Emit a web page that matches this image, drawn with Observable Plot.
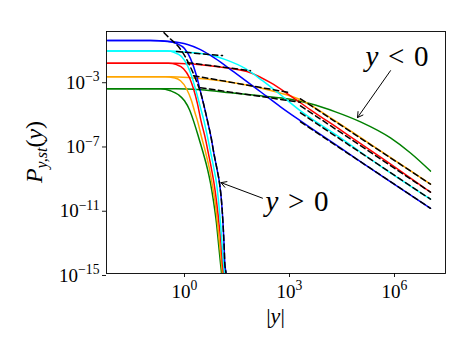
<!DOCTYPE html>
<html><head><meta charset="utf-8">
<script src="https://cdn.jsdelivr.net/npm/d3@7"></script>
<script src="https://cdn.jsdelivr.net/npm/@observablehq/plot@0.6"></script>
<style>
body{margin:0;background:#fff;}
svg text{font-family:'Liberation Serif','Times New Roman',serif !important;}
</style></head><body>
<script>
// axis setup
const xTicks = [1, 1e3, 1e6];
const yTicks = [1e-15, 1e-11, 1e-7, 1e-3];
const xDomain = [0.005905, 2.865e7];
const yDomain = [1e-15, 1.155];

// y > 0 branches [|y|, P]
const greenPos = [[0.00631,3.16e-4],[0.206,3.16e-4],[0.398,2.37e-4],[0.674,1.33e-4],[1,5.62e-5],[1.389,1.54e-5],[1.807,3.16e-6],[2.512,3.16e-7],[3.49,2.74e-8],[4.541,3.16e-9],[5.533,4.22e-10],[6.739,3.16e-11],[8.209,1.33e-12],[9.363,7.5e-14],[10.68,4.22e-15],[11.41,1e-15],[12.18,7.5e-17]];
const orangePos = [[0.00631,1.778e-3],[0.2864,1.778e-3],[0.4851,1.54e-3],[0.7686,1e-3],[1.141,3.16e-4],[1.585,5.62e-5],[1.995,1e-5],[2.351,3.16e-6],[3.06,3.16e-7],[4.115,2.74e-8],[5.179,3.16e-9],[6.105,4.22e-10],[7.438,3.16e-11],[8.767,1.33e-12],[10,7.5e-14],[11.41,4.22e-15],[12.18,1e-15],[13.01,7.5e-17]];
const redPos = [[0.00631,0.01241],[0.349,0.01241],[0.5907,0.01],[0.9363,5.62e-3],[1.389,1.54e-3],[1.807,3.16e-4],[2.351,3.65e-5],[2.961,3.16e-6],[3.852,3.16e-7],[4.85,2.74e-8],[5.907,3.16e-9],[6.964,4.22e-10],[8.209,3.16e-11],[9.676,1.33e-12],[11.04,7.5e-14],[12.18,4.22e-15],[13.01,1e-15],[13.89,7.5e-17]];
const cyanPos = [[0.00631,0.0698],[0.3267,0.0698],[0.5179,0.0562],[0.8209,0.0316],[1.218,8.66e-3],[1.692,1.33e-3],[2.202,1.78e-4],[2.865,2.05e-5],[3.607,3.16e-6],[4.541,3.16e-7],[5.716,2.74e-8],[6.964,3.16e-9],[8.209,4.22e-10],[9.363,3.16e-11],[10.68,1.33e-12],[11.79,7.5e-14],[13.01,4.22e-15],[13.89,1e-15],[14.84,7.5e-17]];
const bluePos = [[0.00631,0.3162],[0.1068,0.3162],[0.3267,0.2738],[0.5907,0.2054],[1,0.1],[1.484,0.0237],[2.202,2.05e-3],[3.06,1.15e-4],[3.728,2.05e-5],[4.541,3.16e-6],[5.716,3.16e-7],[6.964,2.74e-8],[8.483,3.16e-9],[10,4.22e-10],[11.41,3.16e-11],[12.59,1.33e-12],[13.45,7.5e-14],[14.17,4.22e-15],[15.34,1e-15],[16.38,7.5e-17]];
const dashPos = [[0.1807,2.738],[0.2512,1.075],[0.3981,0.3928],[0.631,0.154],[1.068,0.02943],[1.484,6.98e-3],[2.062,1.33e-3],[3.06,1.15e-4],[3.728,2.05e-5],[4.541,3.16e-6],[5.716,3.16e-7],[6.964,2.74e-8],[8.483,3.16e-9],[10,4.22e-10],[11.41,3.16e-11],[12.59,1.33e-12],[13.45,7.5e-14],[14.17,4.22e-15],[15.34,1e-15],[16.38,7.5e-17]];

// y < 0 branches [|y|, P]
const greenNeg = [[0.00631,3.16e-4],[0.5533,3.16e-4],[2.865,2.74e-4],[20.62,1.78e-4],[148.4,1.15e-4],[1068,6.98e-5],[3981,3.65e-5],[20620,1.155e-5],[106800,2.74e-6],[768600,2.74e-7],[2.865e6,3.16e-8],[1.068e7,2.37e-9]];
const orangeNeg = [[0.00631,1.778e-3],[0.3981,1.778e-3],[1.484,1.54e-3],[10.68,1e-3],[76.86,4.87e-4],[398.1,2.05e-4],[2062,6.49e-5],[14840,4.87e-6],[148400,1.78e-7],[1.484e6,6.49e-9],[1.068e7,3.65e-10]];
const redNeg = [[0.00631,0.01241],[0.5533,0.01241],[2.865,0.01],[14.84,6.49e-3],[76.86,3.16e-3],[286.5,7.5e-4],[1068,1.15e-4],[3981,1.54e-5],[28650,8.66e-7],[398100,1.78e-8],[1.068e7,1.155e-10]];
const cyanNeg = [[0.00631,0.0698],[0.3981,0.0698],[1.068,0.0604],[3.981,0.0453],[14.84,0.0205],[55.33,5.62e-3],[169.3,1e-3],[553.3,1.33e-4],[2062,1.33e-5],[28650,2.74e-7],[398100,4.87e-9],[1.068e7,4.22e-11]];
const blueNeg = [[0.00631,0.3162],[0.1068,0.3162],[0.3981,0.2738],[1.218,0.1778],[2.865,0.0866],[7.686,0.0237],[25.12,3.65e-3],[148.4,2.05e-4],[553.3,2.37e-5],[2062,3.16e-6],[28650,6.49e-8],[398100,1.33e-9],[1.068e7,1.15e-11]];

// dashed asymptotes for y < 0
const dashMidCyan = [[0.5907,0.0649],[12.18,0.0365]];
const dashMidRed = [[1.218,0.01334],[76.86,4.22e-3]];
const dashMidOrange = [[1.807,2.05e-3],[1068,1.78e-4]];
const dashMidGreen = [[2.865,3.65e-4],[2062,4.53e-5]];
const dashTailOrange = [[2062,7.5e-5],[1.068e7,3.65e-10]];
const dashTailRed = [[2062,2.74e-5],[1.068e7,1.155e-10]];
const dashTailCyan = [[2062,1e-5],[1.068e7,4.22e-11]];
const dashTailBlue = [[2062,2.74e-6],[1.068e7,1.15e-11]];

// annotations
const notes = [{x:1.484e5, y:0.033, t:"y < 0"}, {x:206.3, y:2.88e-11, t:"y > 0"}];
const arrows = [{x1:7.686e5, y1:4.22e-3, x2:8.77e4, y2:5.08e-6}, {x1:169.3, y1:4.87e-11, x2:11.04, y2:4.53e-10}];

const FONT = "'Liberation Serif', 'Times New Roman', serif";
const solid = (data, color) => Plot.line(data, {x: d => d[0], y: d => d[1], stroke: color, strokeWidth: 1.5, curve: "monotone-x", clip: true});
const dashed = (data) => Plot.line(data, {x: d => d[0], y: d => d[1], stroke: "black", strokeWidth: 1.5, strokeDasharray: "5.5,3.5", curve: "monotone-x", clip: true});
const fmt = d => "10^" + String(Math.round(Math.log10(d))).replace("-", "\u2212");

const chart = Plot.plot({
  width: 469, height: 351,
  marginLeft: 106, marginRight: 24, marginTop: 31, marginBottom: 78,
  style: {background: "white", color: "black", fontFamily: FONT},
  x: {type: "log", domain: xDomain},
  y: {type: "log", domain: yDomain},
  marks: [
    Plot.axisX(xTicks, {tickSize: 4, tickPadding: 7, tickFormat: fmt, label: null, fontSize: 19, strokeWidth: 0.9}),
    Plot.axisY(yTicks, {tickSize: 4, tickPadding: 3, tickFormat: fmt, label: null, fontSize: 19, dy: 2, strokeWidth: 0.9}),
    solid(greenPos, "green"), solid(greenNeg, "green"),
    solid(orangePos, "orange"), solid(orangeNeg, "orange"),
    solid(redPos, "red"), solid(redNeg, "red"),
    solid(cyanPos, "cyan"), solid(cyanNeg, "cyan"),
    solid(bluePos, "blue"), solid(blueNeg, "blue"),
    dashed(dashPos),
    dashed(dashMidCyan), dashed(dashMidRed), dashed(dashMidOrange), dashed(dashMidGreen),
    dashed(dashTailOrange), dashed(dashTailRed), dashed(dashTailCyan), dashed(dashTailBlue),
    Plot.arrow(arrows, {x1: "x1", y1: "y1", x2: "x2", y2: "y2", stroke: "black", strokeWidth: 1, headLength: 9, inset: 0}),
    Plot.text(notes, {x: "x", y: "y", text: "t", textAnchor: "start", fontSize: 29}),
    Plot.frame({stroke: "black", strokeWidth: 0.9})
  ]
});
document.body.append(chart);

const NS = "http://www.w3.org/2000/svg";
const ts = (txt, attrs) => { const t = document.createElementNS(NS, "tspan"); t.textContent = txt; for (const k in attrs) t.setAttribute(k, attrs[k]); return t; };

chart.querySelectorAll("text").forEach(el => {
  const s = el.textContent;
  const m = /^10\^(.*)$/.exec(s);
  if (m) {
    el.textContent = "";
    el.append(ts("10", {}), ts(m[1], {"dy": "-0.55em", "font-size": "0.72em"}));
  } else if (s === "y < 0" || s === "y > 0") {
    el.textContent = "";
    el.append(ts("y", {"font-style": "italic"}), ts("\u2004" + s[2] + "\u20040", {}));
  }
});

const svg = d3.select(chart);
const xl = svg.append("text").attr("x", 275.5).attr("y", 323).attr("text-anchor", "middle").attr("font-size", 22).attr("fill", "black");
xl.append("tspan").text("|");
xl.append("tspan").attr("font-style", "italic").text("y");
xl.append("tspan").text("|");
const yl = svg.append("text").attr("transform", "translate(42,152) rotate(-90)").attr("text-anchor", "middle").attr("font-size", 24).attr("fill", "black");
yl.append("tspan").attr("font-style", "italic").text("P");
yl.append("tspan").attr("font-style", "italic").attr("font-size", 16).attr("dy", 5).text("y,st");
yl.append("tspan").attr("dy", -5).text("(");
yl.append("tspan").attr("font-style", "italic").text("y");
yl.append("tspan").text(")");

chart.querySelectorAll("text").forEach(el => { el.setAttribute("font-family", FONT); el.style.fontFamily = FONT; });
</script>
</body></html>
